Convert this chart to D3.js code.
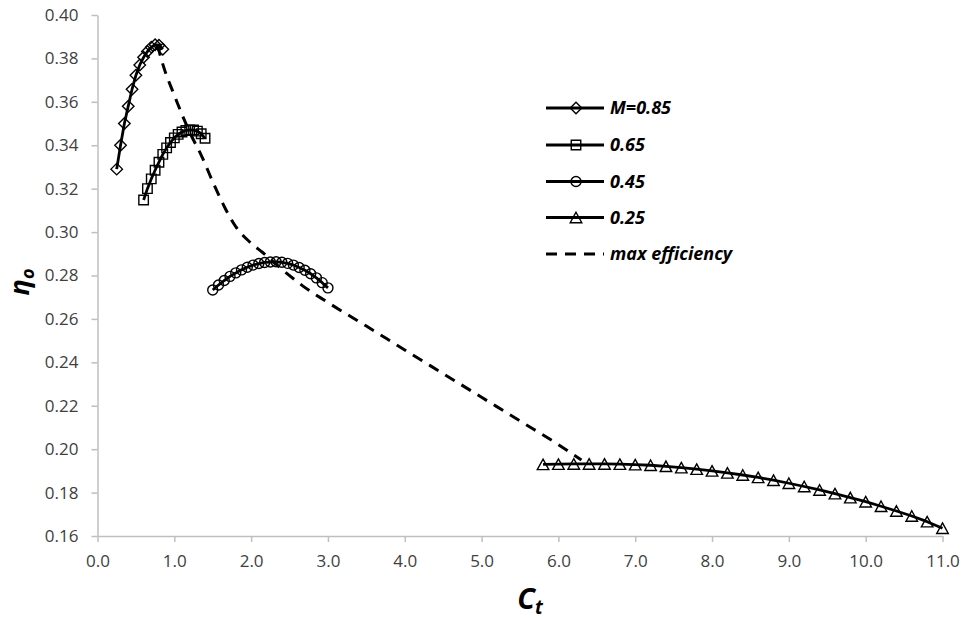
<!DOCTYPE html>
<html>
<head>
<meta charset="utf-8">
<script src="https://cdn.jsdelivr.net/npm/d3@7/dist/d3.min.js"></script>
<style>
  html, body { margin: 0; padding: 0; background: #ffffff; }
  svg { display: block; }
</style>
</head>
<body>
<svg id="chart" width="965" height="622"></svg>
<script>
// Overall efficiency vs thrust coefficient for several flight Mach numbers
const ctM085  = [0.25, 0.30, 0.35, 0.40, 0.45, 0.50, 0.55, 0.60, 0.65, 0.70, 0.75, 0.80, 0.85];
const etaM085 = [0.3290, 0.3400, 0.3500, 0.3580, 0.3658, 0.3722, 0.3770, 0.3805, 0.3832, 0.3852, 0.3863, 0.3861, 0.3842];

const ctM065  = [0.60, 0.65, 0.70, 0.75, 0.80, 0.85, 0.90, 0.95, 1.00, 1.05, 1.10, 1.15, 1.20, 1.25, 1.30, 1.35, 1.40];
const etaM065 = [0.3148, 0.3200, 0.3245, 0.3285, 0.3322, 0.3358, 0.3388, 0.3413, 0.3434, 0.3450, 0.3461, 0.3468, 0.3471, 0.3470, 0.3465, 0.3453, 0.3432];

const ctM045  = [1.500, 1.575, 1.650, 1.725, 1.800, 1.875, 1.950, 2.025, 2.100, 2.175, 2.250,
                 2.325, 2.400, 2.475, 2.550, 2.625, 2.700, 2.775, 2.850, 2.925, 3.000];
const etaM045 = [0.2733, 0.2756, 0.2777, 0.2796, 0.2812, 0.2826, 0.2838, 0.2848, 0.2855, 0.2860, 0.2862,
                 0.2863, 0.2861, 0.2856, 0.2848, 0.2837, 0.2824, 0.2808, 0.2789, 0.2767, 0.2743];

const ctM025  = [5.8, 6.0, 6.2, 6.4, 6.6, 6.8, 7.0, 7.2, 7.4, 7.6, 7.8, 8.0, 8.2, 8.4,
                 8.6, 8.8, 9.0, 9.2, 9.4, 9.6, 9.8, 10.0, 10.2, 10.4, 10.6, 10.8, 11.0];
const etaM025 = [0.1930, 0.1931, 0.1932, 0.1932, 0.1932, 0.1931, 0.1929, 0.1926, 0.1921, 0.1915, 0.1908, 0.1900, 0.1891, 0.1881,
                 0.1870, 0.1857, 0.1843, 0.1828, 0.1812, 0.1795, 0.1777, 0.1758, 0.1737, 0.1715, 0.1692, 0.1666, 0.1636];

// Locus of the efficiency maxima
const ctMax  = [0.78, 0.86, 0.99, 1.12, 1.20, 1.36, 1.49, 1.65, 1.80, 1.99, 2.15, 2.46, 2.68, 2.98, 3.50, 4.00, 4.50, 5.00, 5.50, 6.00, 6.30];
const etaMax = [0.3862, 0.3762, 0.3639, 0.3525, 0.3460, 0.3347, 0.3240, 0.3118, 0.3025, 0.2952, 0.2906, 0.2811, 0.2750, 0.2680, 0.2567, 0.2457, 0.2348, 0.2239, 0.2130, 0.2021, 0.1950];

const xTicks = [0, 1, 2, 3, 4, 5, 6, 7, 8, 9, 10, 11];
const yTicks = [0.16, 0.18, 0.20, 0.22, 0.24, 0.26, 0.28, 0.30, 0.32, 0.34, 0.36, 0.38, 0.40];

const seriesNames = ["M=0.85", "0.65", "0.45", "0.25"];
const maxName = "max efficiency";

const svg = d3.select("#chart");
const plot = { left: 97.5, right: 942.5, top: 15, bottom: 536 };

const x = d3.scaleLinear().domain([0, 11]).range([plot.left, plot.right]);
const y = d3.scaleLinear().domain([0.16, 0.40]).range([plot.bottom, plot.top]);

const axisColor = "#bfbfbf";
const labelColor = "#404040";
const tickFont = "'Open Sans', sans-serif";

// Axes
const gx = svg.append("g")
  .attr("transform", `translate(0,${plot.bottom})`)
  .call(d3.axisBottom(x).tickValues(xTicks).tickFormat(d3.format(".1f")).tickSize(6).tickSizeOuter(0).tickPadding(13));
const gy = svg.append("g")
  .attr("transform", `translate(${plot.left},0)`)
  .call(d3.axisLeft(y).tickValues(yTicks).tickFormat(d3.format(".2f")).tickSize(6).tickSizeOuter(0).tickPadding(13));

[gx, gy].forEach(g => {
  g.select(".domain").attr("stroke", axisColor).attr("stroke-width", 1.5);
  g.selectAll(".tick line").attr("stroke", axisColor).attr("stroke-width", 1.5);
  g.selectAll(".tick text").attr("fill", labelColor).style("font-family", tickFont).style("font-size", "17px");
});

// Marker shapes
function diamondPath(s) { const h = s / 2; return `M0,${-h}L${h},0L0,${h}L${-h},0Z`; }
function squarePath(s) { const h = s / 2; return `M${-h},${-h}H${h}V${h}H${-h}Z`; }
function circlePath(s) { const r = s / 2; return `M${r},0A${r},${r} 0 1,1 ${-r},0A${r},${r} 0 1,1 ${r},0Z`; }
function trianglePath(s) { const h = s / 2; return `M0,${-h}L${h * 1.1},${h}L${-h * 1.1},${h}Z`; }

const series = [
  { name: seriesNames[0], ct: ctM085, eta: etaM085, marker: diamondPath, size: 11.5 },
  { name: seriesNames[1], ct: ctM065, eta: etaM065, marker: squarePath, size: 9.5 },
  { name: seriesNames[2], ct: ctM045, eta: etaM045, marker: circlePath, size: 10 },
  { name: seriesNames[3], ct: ctM025, eta: etaM025, marker: trianglePath, size: 10.5 }
];

const line = d3.line().x(d => x(d[0])).y(d => y(d[1]));

series.forEach(s => {
  const pts = s.ct.map((c, i) => [c, s.eta[i]]);
  const g = svg.append("g");
  g.append("path")
    .attr("d", line(pts))
    .attr("fill", "none")
    .attr("stroke", "#000")
    .attr("stroke-width", 2.8)
    .attr("stroke-linejoin", "round");
  g.selectAll("path.mk").data(pts).join("path")
    .attr("class", "mk")
    .attr("d", s.marker(s.size))
    .attr("transform", d => `translate(${x(d[0])},${y(d[1])})`)
    .attr("fill", "none")
    .attr("stroke", "#000")
    .attr("stroke-width", 1.4);
});

// Max efficiency locus
const maxPts = ctMax.map((c, i) => [c, etaMax[i]]);
svg.append("path")
  .attr("d", d3.line().curve(d3.curveMonotoneX).x(d => x(d[0])).y(d => y(d[1]))(maxPts))
  .attr("fill", "none")
  .attr("stroke", "#000")
  .attr("stroke-width", 3)
  .attr("stroke-dasharray", "11,8");

// Legend
const legendFont = "'Open Sans', sans-serif";
const legend = svg.append("g");
const rows = [108, 145, 181.5, 217.5, 254];
series.forEach((s, i) => {
  const ry = rows[i];
  legend.append("line").attr("x1", 546).attr("x2", 604).attr("y1", ry).attr("y2", ry)
    .attr("stroke", "#000").attr("stroke-width", 2.8);
  legend.append("path").attr("d", s.marker(s.size))
    .attr("transform", `translate(576,${ry})`)
    .attr("fill", "none").attr("stroke", "#000").attr("stroke-width", 1.4);
  legend.append("text").attr("x", 610).attr("y", ry).attr("dy", "0.36em")
    .style("font-family", legendFont).style("font-size", "18px")
    .style("font-weight", "bold").style("font-style", "italic")
    .attr("fill", "#000").text(s.name);
});
legend.append("line").attr("x1", 546).attr("x2", 604).attr("y1", rows[4]).attr("y2", rows[4])
  .attr("stroke", "#000").attr("stroke-width", 3).attr("stroke-dasharray", "11,8");
legend.append("text").attr("x", 610).attr("y", rows[4]).attr("dy", "0.36em")
  .style("font-family", legendFont).style("font-size", "18px")
  .style("font-weight", "bold").style("font-style", "italic")
  .attr("fill", "#000").text(maxName);

// Axis titles
const xt = svg.append("text").attr("x", 530).attr("y", 609).attr("text-anchor", "middle")
  .style("font-family", legendFont).style("font-weight", "bold").style("font-style", "italic")
  .attr("fill", "#000");
xt.append("tspan").style("font-size", "29px").text("C");
xt.append("tspan").style("font-size", "19px").attr("dy", 5).text("t");

const yt = svg.append("text").attr("transform", "translate(29,282) rotate(-90)").attr("text-anchor", "middle")
  .style("font-family", legendFont).style("font-weight", "bold").style("font-style", "italic")
  .attr("fill", "#000");
yt.append("tspan").style("font-size", "27px").text("η");
yt.append("tspan").style("font-size", "18px").attr("dy", 5).text("o");
</script>
</body>
</html>
